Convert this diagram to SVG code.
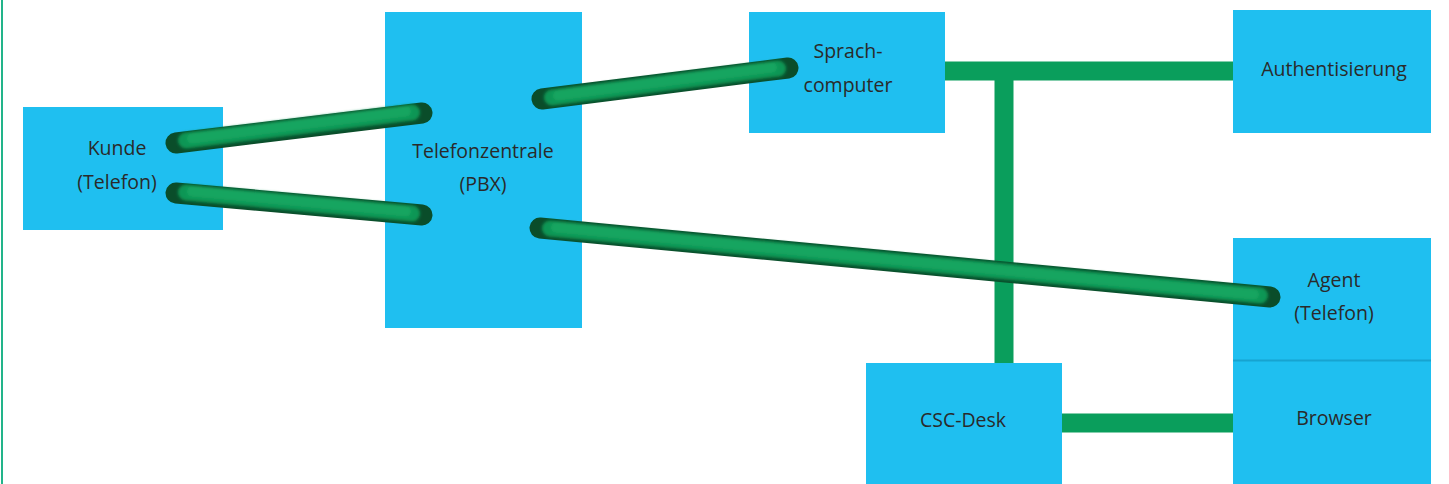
<svg xmlns="http://www.w3.org/2000/svg" width="1449" height="484" viewBox="0 0 1449 484">
  <style>
    .box { fill: #1fbff0; }
    .label { font-family: "Open Sans", "Liberation Sans", sans-serif; font-size: 19.5px; fill: #2a2a2a; text-anchor: middle; }
    .bar { stroke: #0a9e5c; stroke-width: 19; fill: none; }
    .tube-edge { stroke: #0a4d2a; stroke-width: 21; stroke-linecap: round; fill: none; }
    .tube-body { stroke: #0f9654; stroke-width: 16; stroke-linecap: round; fill: none; }
    .tube-light { stroke: #15a560; stroke-width: 10; stroke-linecap: round; fill: none; }
  </style>
  <defs>
    <linearGradient id="boxShade" x1="0" y1="0" x2="1" y2="0">
      <stop offset="0" stop-color="#1cbaec"/>
      <stop offset="0.5" stop-color="#2ac4f2"/>
      <stop offset="1" stop-color="#1cbaec"/>
    </linearGradient>
    <filter id="soft" x="-5%" y="-50%" width="110%" height="200%">
      <feGaussianBlur stdDeviation="1.4"/>
    </filter>
  </defs>

  <rect width="1449" height="484" fill="#ffffff"/>
  <!-- frame line on the left -->
  <line x1="2" y1="0" x2="2" y2="484" stroke="#22b48a" stroke-width="2"/>

  <!-- flat data links (behind the boxes) -->
  <g id="bus">
    <line class="bar" x1="940" y1="71" x2="1238" y2="71"/>
    <line class="bar" x1="1004" y1="71" x2="1004" y2="368"/>
    <line class="bar" x1="1055" y1="423" x2="1238" y2="423"/>
  </g>

  <g id="kunde">
    <rect class="box" x="23" y="107" width="200" height="123" fill="url(#boxShade)"/>
    <text class="label" x="117" y="155">Kunde</text>
    <text class="label" x="117" y="189">(Telefon)</text>
  </g>

  <g id="pbx">
    <rect class="box" x="385" y="12" width="197" height="316" fill="url(#boxShade)"/>
    <text class="label" x="483" y="158">Telefonzentrale</text>
    <text class="label" x="483" y="191">(PBX)</text>
  </g>

  <g id="sprachcomputer">
    <rect class="box" x="749" y="12" width="196" height="121" fill="url(#boxShade)"/>
    <text class="label" x="848" y="58">Sprach-</text>
    <text class="label" x="848" y="92">computer</text>
  </g>

  <g id="authentisierung">
    <rect class="box" x="1233" y="10" width="198" height="123" fill="url(#boxShade)"/>
    <text class="label" x="1334" y="76">Authentisierung</text>
  </g>

  <g id="agent">
    <rect class="box" x="1233" y="238" width="198" height="122" fill="url(#boxShade)"/>
    <text class="label" x="1334" y="287">Agent</text>
    <text class="label" x="1334" y="320">(Telefon)</text>
  </g>

  <g id="browser">
    <rect class="box" x="1233" y="361" width="198" height="123" fill="url(#boxShade)"/>
    <line x1="1233" y1="360.5" x2="1431" y2="360.5" stroke="#17a3d0" stroke-width="2"/>
    <text class="label" x="1334" y="425">Browser</text>
  </g>

  <g id="csc-desk">
    <rect class="box" x="866" y="363" width="196" height="121" fill="url(#boxShade)"/>
    <text class="label" x="963" y="427">CSC-Desk</text>
  </g>

  <!-- voice lines drawn as shaded tubes -->
  <g id="tubes">
    <g>
      <line class="tube-edge" x1="176" y1="143" x2="422" y2="113"/>
      <g filter="url(#soft)">
        <line class="tube-body" x1="186" y1="141" x2="412" y2="113" transform="translate(0,-0.5)"/>
        <line class="tube-light" x1="192" y1="140" x2="406" y2="113" transform="translate(0,-1.5)"/>
      </g>
    </g>
    <g>
      <line class="tube-edge" x1="176" y1="193" x2="422" y2="215"/>
      <g filter="url(#soft)">
        <line class="tube-body" x1="186" y1="193" x2="412" y2="214" transform="translate(0,-0.5)"/>
        <line class="tube-light" x1="192" y1="193" x2="406" y2="213" transform="translate(0,-1.5)"/>
      </g>
    </g>
    <g>
      <line class="tube-edge" x1="542" y1="99" x2="788" y2="68"/>
      <g filter="url(#soft)">
        <line class="tube-body" x1="552" y1="98" x2="778" y2="69" transform="translate(0,-0.5)"/>
        <line class="tube-light" x1="558" y1="97" x2="772" y2="69" transform="translate(0,-1.5)"/>
      </g>
    </g>
    <g>
      <line class="tube-edge" x1="540" y1="228" x2="1270" y2="297"/>
      <g filter="url(#soft)">
        <line class="tube-body" x1="550" y1="229" x2="1260" y2="296" transform="translate(0,-0.5)"/>
        <line class="tube-light" x1="556" y1="229" x2="1254" y2="296" transform="translate(0,-1.5)"/>
      </g>
    </g>
  </g>
</svg>
